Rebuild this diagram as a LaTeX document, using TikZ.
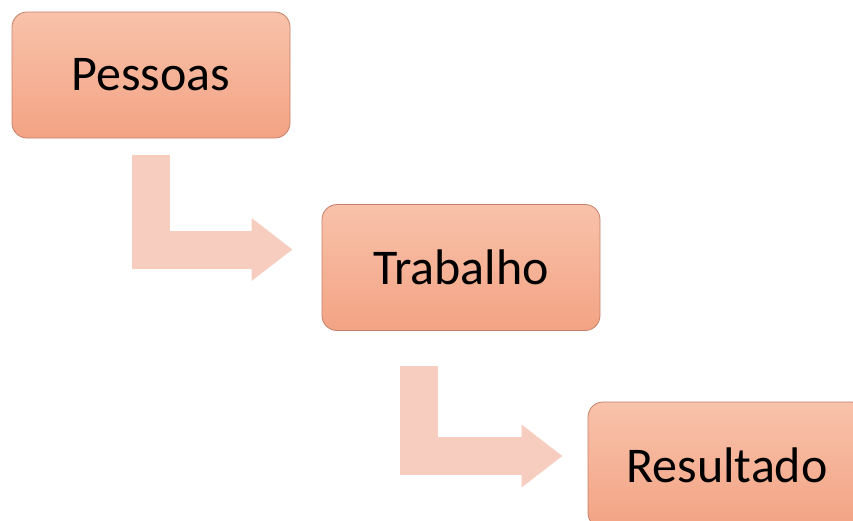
\documentclass[tikz,border=0pt]{standalone}
\usepackage{fontspec}
\setmainfont{Carlito}
\usetikzlibrary{arrows.meta, positioning, calc}
\definecolor{cCaixaTopo}{RGB}{248,194,170}
\definecolor{cCaixaBase}{RGB}{243,163,132}
\definecolor{cBorda}{RGB}{196,128,106}
\definecolor{cSeta}{RGB}{246,205,191}

\begin{document}
\begin{tikzpicture}[x=1pt, y=1pt,
  etapa/.style={draw=cBorda, line width=0.8pt, rounded corners=15pt,
    minimum width=278pt, minimum height=126pt, inner sep=0pt,
    top color=cCaixaTopo, bottom color=cCaixaBase,
    font=\fontsize{50}{58}\selectfont},
  seta/.style={draw=cSeta, line width=38pt, line join=miter,
    -{Triangle[width=60pt, length=41pt]}}]
  \useasboundingbox (0,0) rectangle (853,-520);
  % Caixas das etapas
  \node[etapa] (pessoas) at (151,-75) {Pessoas};
  \node[etapa] (trabalho) at (461,-267.5) {Trabalho};
  \node[etapa] (resultado) at (727,-465) {Resultado};
  % Setas em L entre as caixas
  \coordinate (ini1) at ($(pessoas.south)+(0,-17)$);
  \coordinate (fim1) at ($(trabalho.west)+(-29,18)$);
  \draw[seta] (ini1) |- (fim1);
  \coordinate (ini2) at ($(trabalho.south)+(-42,-35)$);
  \coordinate (fim2) at ($(resultado.west)+(-25,9)$);
  \draw[seta] (ini2) |- (fim2);
\end{tikzpicture}
\end{document}
